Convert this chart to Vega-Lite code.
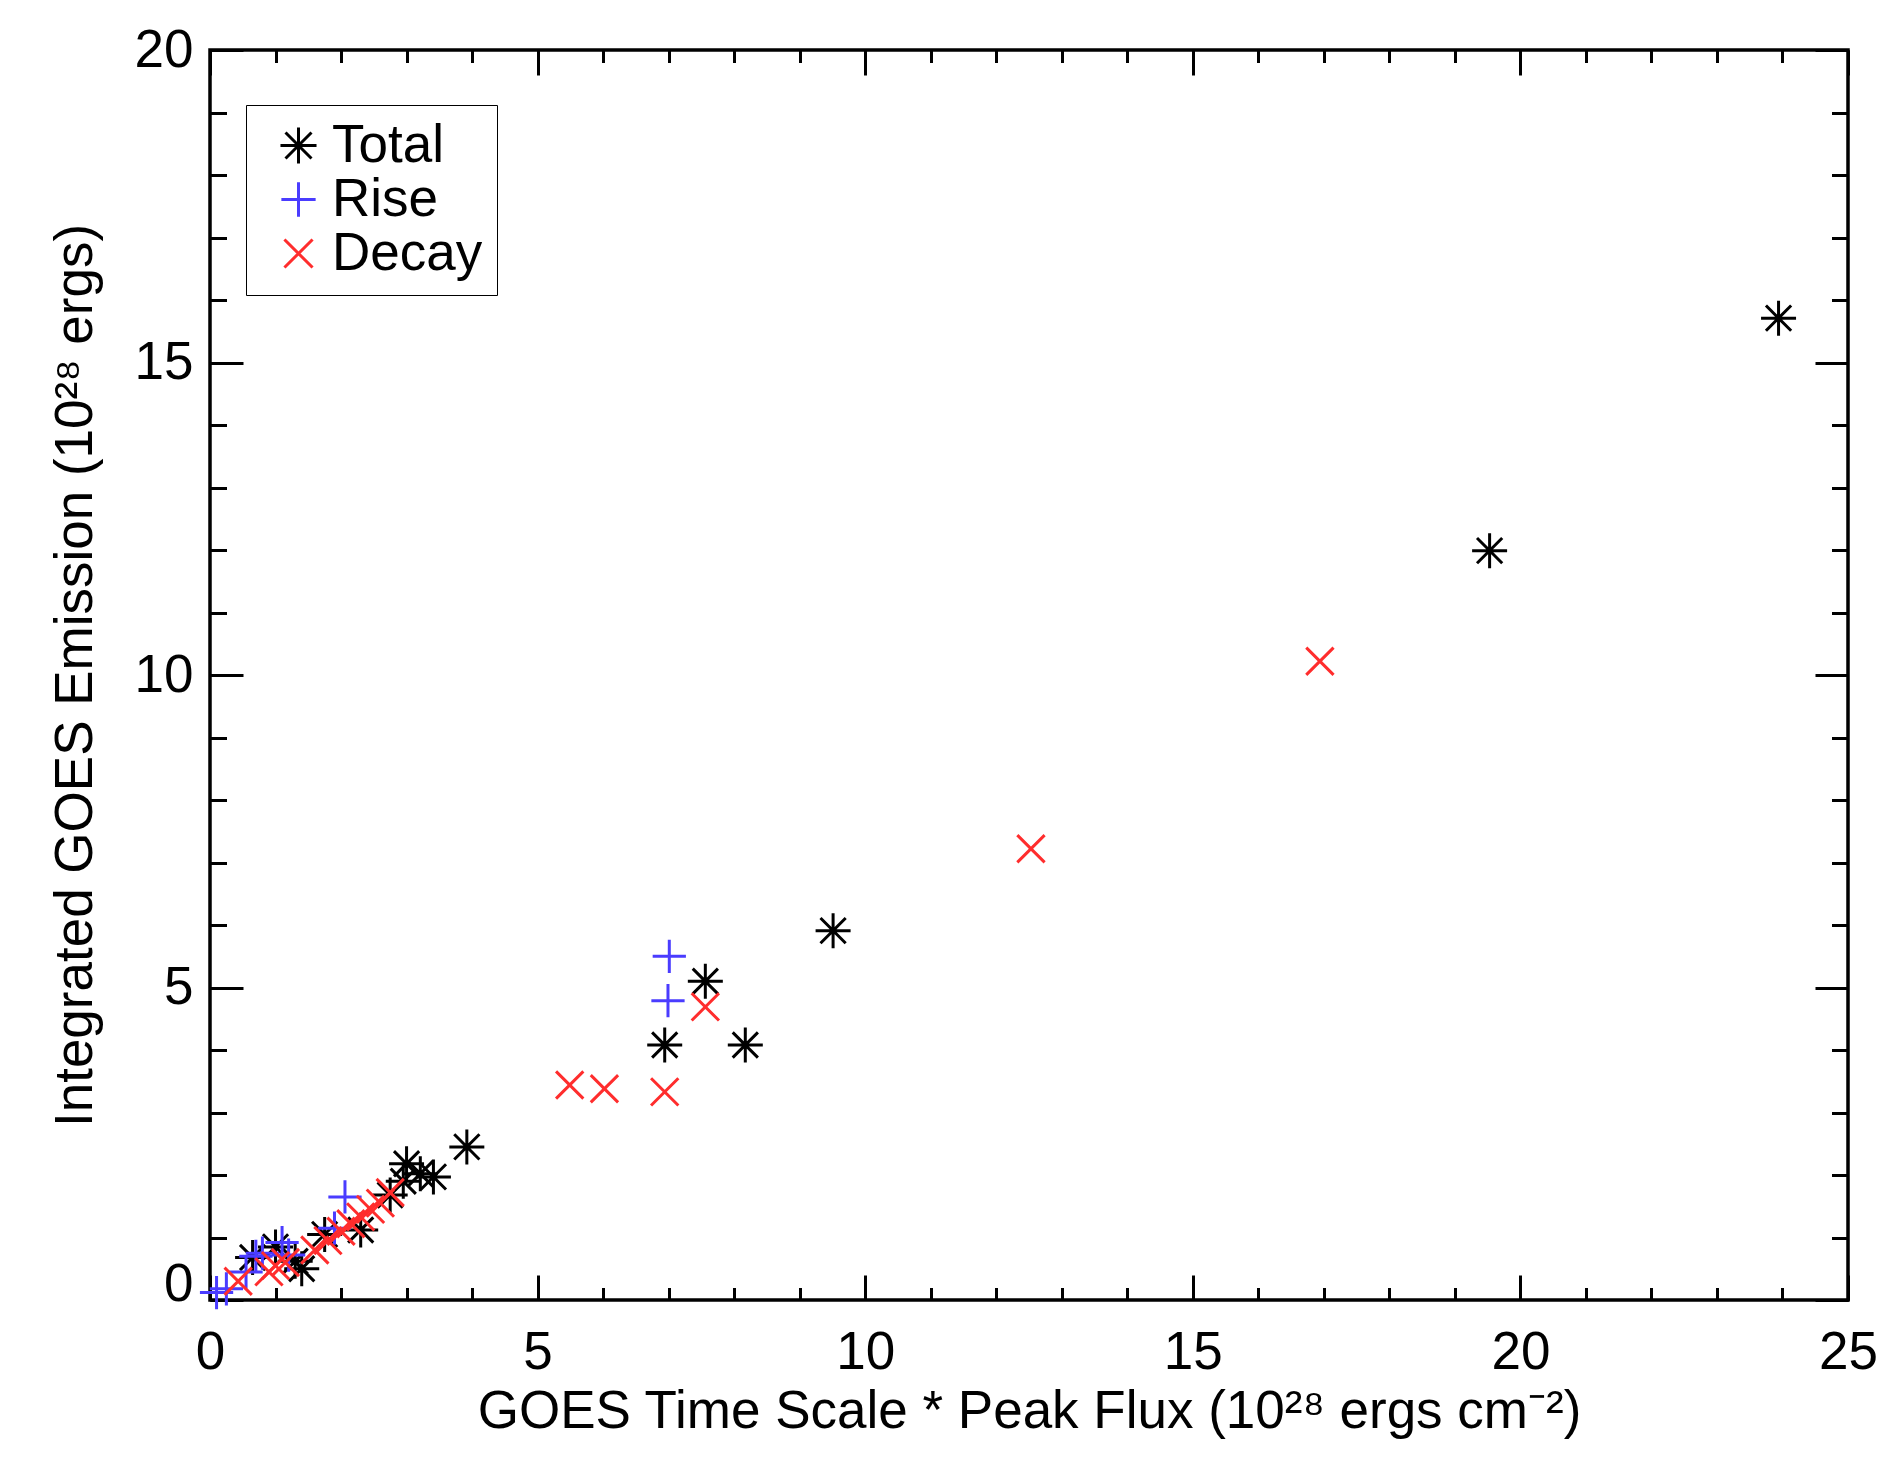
{
  "$schema": "https://vega.github.io/schema/vega-lite/v6.json",
  "autosize": {"type": "none"},
  "width": 1638,
  "height": 1250,
  "padding": {"left": 210, "top": 50, "right": 40, "bottom": 164},
  "background": "white",
  "config": {
    "font": "Liberation Sans",
    "view": {"stroke": "black", "strokeWidth": 3.5, "fill": "white"},
    "axis": {"labelColor": "black", "titleColor": "black", "tickColor": "black", "tickWidth": 3, "domain": false, "grid": false, "labelFontSize": 53, "titleFontSize": 53, "titleFontWeight": "normal", "labelFont": "Liberation Sans", "titleFont": "Liberation Sans", "labelFlush": false, "labelOverlap": false}
  },
  "data": {"values": [
    {"series": "Total", "x": 0.65, "y": 0.68},
    {"series": "Total", "x": 1.0, "y": 0.85},
    {"series": "Total", "x": 1.3, "y": 0.62},
    {"series": "Total", "x": 1.4, "y": 0.5},
    {"series": "Total", "x": 1.75, "y": 1.05},
    {"series": "Total", "x": 2.3, "y": 1.12},
    {"series": "Total", "x": 2.75, "y": 1.68},
    {"series": "Total", "x": 2.95, "y": 1.9},
    {"series": "Total", "x": 3.0, "y": 2.18},
    {"series": "Total", "x": 3.21, "y": 2.02},
    {"series": "Total", "x": 3.41, "y": 1.97},
    {"series": "Total", "x": 3.92, "y": 2.45},
    {"series": "Total", "x": 6.94, "y": 4.08},
    {"series": "Total", "x": 7.56, "y": 5.1},
    {"series": "Total", "x": 8.17, "y": 4.08},
    {"series": "Total", "x": 9.51, "y": 5.91},
    {"series": "Total", "x": 19.53, "y": 11.99},
    {"series": "Total", "x": 23.94, "y": 15.71},
    {"series": "Rise", "x": 0.1, "y": 0.12},
    {"series": "Rise", "x": 0.25, "y": 0.18},
    {"series": "Rise", "x": 0.55, "y": 0.45},
    {"series": "Rise", "x": 0.7, "y": 0.7},
    {"series": "Rise", "x": 0.8, "y": 0.75},
    {"series": "Rise", "x": 1.1, "y": 0.92},
    {"series": "Rise", "x": 1.2, "y": 0.72},
    {"series": "Rise", "x": 1.9, "y": 1.15},
    {"series": "Rise", "x": 2.06, "y": 1.65},
    {"series": "Rise", "x": 6.99, "y": 4.79},
    {"series": "Rise", "x": 7.01, "y": 5.5},
    {"series": "Decay", "x": 0.43, "y": 0.3},
    {"series": "Decay", "x": 0.9, "y": 0.45},
    {"series": "Decay", "x": 1.0, "y": 0.55},
    {"series": "Decay", "x": 1.15, "y": 0.6},
    {"series": "Decay", "x": 1.6, "y": 0.8},
    {"series": "Decay", "x": 1.8, "y": 0.95},
    {"series": "Decay", "x": 2.0, "y": 1.1},
    {"series": "Decay", "x": 2.15, "y": 1.22},
    {"series": "Decay", "x": 2.3, "y": 1.33},
    {"series": "Decay", "x": 2.45, "y": 1.45},
    {"series": "Decay", "x": 2.6, "y": 1.55},
    {"series": "Decay", "x": 2.75, "y": 1.72},
    {"series": "Decay", "x": 5.49, "y": 3.44},
    {"series": "Decay", "x": 6.02, "y": 3.38},
    {"series": "Decay", "x": 6.94, "y": 3.33},
    {"series": "Decay", "x": 7.56, "y": 4.69},
    {"series": "Decay", "x": 12.53, "y": 7.22},
    {"series": "Decay", "x": 16.94, "y": 10.22}
  ]},
  "layer": [
    {
      "mark": {"type": "point", "opacity": 0},
      "encoding": {
        "x": {"field": "x", "type": "quantitative", "scale": {"domain": [0, 25], "nice": false, "zero": false},
          "axis": {"orient": "bottom", "values": [0,5,10,15,20,25], "tickSize": -25, "labels": false, "title": null}},
        "y": {"field": "y", "type": "quantitative", "scale": {"domain": [0, 20], "nice": false, "zero": false},
          "axis": {"orient": "left", "values": [0], "ticks": false, "labelPadding": 17, "labelBaseline": "alphabetic", "title": null}}
      }
    },
    {
      "mark": {"type": "point", "opacity": 0},
      "encoding": {
        "x": {"field": "x", "type": "quantitative",
          "axis": {"orient": "bottom", "values": [0,1,2,3,4,5,6,7,8,9,10,11,12,13,14,15,16,17,18,19,20,21,22,23,24,25], "tickSize": -12.5, "labels": false, "title": null}},
        "y": {"field": "y", "type": "quantitative",
          "axis": {"orient": "left", "values": [0,5,10,15,20], "tickSize": -33, "labels": false, "title": null}}
      }
    },
    {
      "mark": {"type": "point", "opacity": 0},
      "encoding": {
        "x": {"field": "x", "type": "quantitative",
          "axis": {"orient": "top", "values": [0,5,10,15,20,25], "tickSize": -25, "labels": false, "title": null}},
        "y": {"field": "y", "type": "quantitative",
          "axis": {"orient": "left", "values": [0,1,2,3,4,5,6,7,8,9,10,11,12,13,14,15,16,17,18,19,20], "tickSize": -16.5, "labels": false, "title": null}}
      }
    },
    {
      "mark": {"type": "point", "opacity": 0},
      "encoding": {
        "x": {"field": "x", "type": "quantitative",
          "axis": {"orient": "top", "values": [0,1,2,3,4,5,6,7,8,9,10,11,12,13,14,15,16,17,18,19,20,21,22,23,24,25], "tickSize": -12.5, "labels": false, "title": null}},
        "y": {"field": "y", "type": "quantitative",
          "axis": {"orient": "right", "values": [0,5,10,15,20], "tickSize": -33, "labels": false, "title": null}}
      }
    },
    {
      "mark": {"type": "point", "opacity": 0},
      "encoding": {
        "x": {"field": "x", "type": "quantitative", "axis": null},
        "y": {"field": "y", "type": "quantitative",
          "axis": {"orient": "right", "values": [0,1,2,3,4,5,6,7,8,9,10,11,12,13,14,15,16,17,18,19,20], "tickSize": -16.5, "labels": false, "title": null}}
      }
    },
    {
      "mark": {"type": "point", "filled": false, "strokeWidth": 3, "size": 1225, "opacity": 1},
      "encoding": {
        "x": {"field": "x", "type": "quantitative",
          "axis": {"orient": "bottom", "values": [0,5,10,15,20,25], "ticks": false, "labelPadding": 26,
            "title": "GOES Time Scale * Peak Flux (10²⁸ ergs cm⁻²)", "titlePadding": 6}},
        "y": {"field": "y", "type": "quantitative",
          "axis": {"orient": "left", "values": [5,10,15,20], "ticks": false, "labelPadding": 17,
            "title": "Integrated GOES Emission (10²⁸ ergs)", "titlePadding": 32}},
        "color": {"field": "series", "type": "nominal", "sort": ["Total", "Rise", "Decay"],
          "scale": {"domain": ["Total", "Rise", "Decay"], "range": ["#000000", "#4a3cff", "#ff2d2d"]},
          "legend": {"orient": "none", "legendX": 36, "legendY": 55, "title": null, "strokeColor": "black", "fillColor": "white", "padding": 14, "labelFontSize": 53, "labelColor": "black", "symbolSize": 1300, "symbolStrokeWidth": 3, "labelOffset": 7, "rowPadding": 0, "symbolOffset": 12}},
        "shape": {"field": "series", "type": "nominal", "sort": ["Total", "Rise", "Decay"],
          "scale": {"domain": ["Total", "Rise", "Decay"], "range": [
            "M-1,0L1,0M0,-1L0,1M-0.72,-0.72L0.72,0.72M-0.72,0.72L0.72,-0.72",
            "M-0.95,0L0.95,0M0,-0.95L0,0.95",
            "M-0.78,-0.78L0.78,0.78M-0.78,0.78L0.78,-0.78"]},
          "legend": null}
      }
    }
  ],
  "resolve": {"axis": {"x": "independent", "y": "independent"}}
}
